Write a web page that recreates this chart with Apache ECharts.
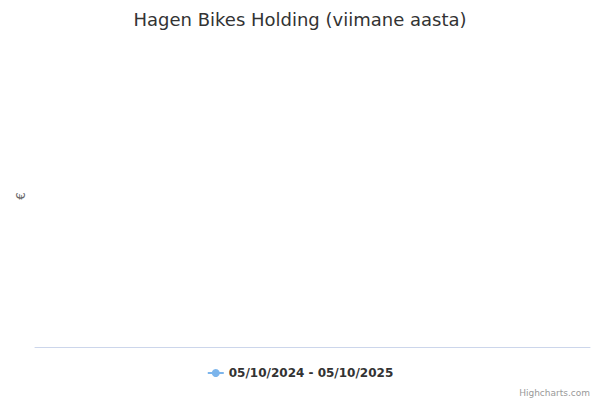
<!DOCTYPE html>
<html>
<head>
<meta charset="utf-8">
<script src="https://cdn.jsdelivr.net/npm/echarts@6/dist/echarts.min.js"></script>
<style>html,body{margin:0;padding:0;background:#fff}#c{width:600px;height:400px}</style>
</head>
<body>
<div id="c"></div>
<script>
var titleText = "Hagen Bikes Holding (viimane aasta)";
var seriesName = "05/10/2024 - 05/10/2025";
var yAxisName = "€";
var categories = [];
var values = [];

var chart = echarts.init(document.getElementById('c'), null, {renderer: 'svg'});
var font = "DejaVu Sans, sans-serif";
chart.setOption({
  animation: false,
  backgroundColor: '#ffffff',
  textStyle: {fontFamily: font},
  title: {
    text: titleText,
    left: 'center',
    top: 5,
    textStyle: {fontFamily: font, fontSize: 18, fontWeight: 'normal', color: '#333333'}
  },
  legend: {
    bottom: 16,
    left: 'center',
    itemWidth: 16,
    itemHeight: 10,
    itemGap: 6,
    textStyle: {fontFamily: font, fontSize: 12, fontWeight: 'bold', color: '#333333'},
    data: [seriesName]
  },
  grid: {left: 35, right: 10, top: 45, bottom: 53},
  xAxis: {
    type: 'category',
    data: categories,
    axisLine: {show: true, lineStyle: {color: '#ccd6eb', width: 1}},
    axisTick: {show: false},
    axisLabel: {show: false},
    splitLine: {show: false}
  },
  yAxis: {
    type: 'value',
    name: yAxisName,
    nameLocation: 'middle',
    nameRotate: 90,
    nameGap: 8,
    nameTextStyle: {fontFamily: font, fontSize: 12, color: '#666666'},
    axisLine: {show: false},
    axisTick: {show: false},
    axisLabel: {show: false},
    splitLine: {show: false}
  },
  series: [{
    name: seriesName,
    type: 'line',
    data: values,
    symbol: 'circle',
    symbolSize: 8,
    itemStyle: {color: '#7cb5ec'},
    lineStyle: {color: '#7cb5ec', width: 2}
  }],
  graphic: [{
    type: 'text',
    right: 10,
    bottom: 3,
    style: {text: 'Highcharts.com', fontFamily: font, fontSize: 9, fill: '#999999'}
  }]
});
</script>
</body>
</html>
